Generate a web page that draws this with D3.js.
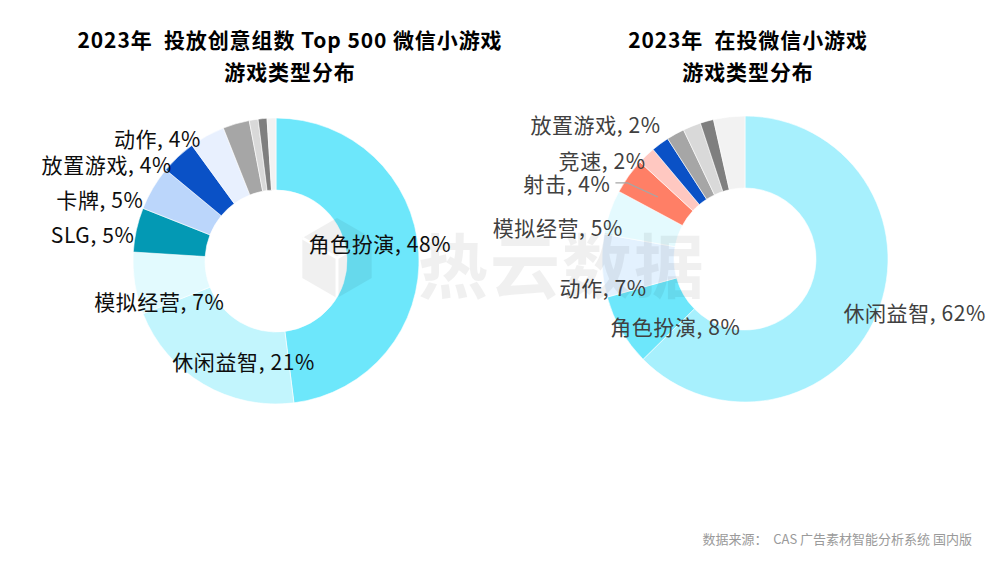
<!DOCTYPE html>
<html>
<head>
<meta charset="utf-8">
<script src="https://cdn.jsdelivr.net/npm/d3@7"></script>
<style>
  body { margin: 0; background: #fff; }
  text { font-family: "Noto Sans CJK SC", "Noto Sans", sans-serif; }
</style>
</head>
<body>
<script>
// left: Top 500 by creative groups
const leftCats = ['角色扮演', '休闲益智', '模拟经营', 'SLG', '卡牌', '放置游戏', '动作', '其他A', '其他B', '其他C', '其他D'];
const leftVals = [48, 21, 7, 5, 5, 4, 4, 3, 1, 1, 1];

// right: all active mini games
const rightCats = ['休闲益智', '角色扮演', '动作', '模拟经营', '射击', '竞速', '放置游戏', '其他A', '其他B', '其他C', '其他D'];
const rightVals = [62, 8, 7, 5, 4, 2, 2, 2, 2, 1.5, 3.5];

// only the first N slices carry a label
const leftLabelled = 7;
const rightLabelled = 7;

const leftColors = ['#6de7fb', '#c2f5fd', '#e2fafe', '#0399b4', '#bbd6fb', '#0a51c6', '#e8f0fe', '#a6a6a6', '#d9d9d9', '#7f7f7f', '#f2f2f2'];
const rightColors = ['#a7f0fd', '#6de7fb', '#e3f1fe', '#e4fafe', '#ff7f66', '#ffc8c1', '#0a51c6', '#a6a6a6', '#d9d9d9', '#7f7f7f', '#f2f2f2'];

// label nudges from arc centroid (layout only)
const leftNudge = [[-3, -11], [22, 8], [-11, 23], [-79, -4], [-84, -8], [-96, -19], [-67, -29]];
const rightNudge = [[71, 12], [23, 13], [-35, 23], [-86, 3], [-91, -14], [-69, -22], [-86, -49]];

const W = 992, H = 567;
const rIn = 71, rOut = 143;

const svg = d3.select('body')
  .append('svg')
  .attr('width', W)
  .attr('height', H);

const pie = d3.pie().sort(null).value(d => d.v);
const arc = d3.arc().innerRadius(rIn).outerRadius(rOut);

function drawDonut(cx, cy, cats, vals, colors) {
  const rows = cats.map((c, i) => ({ c, v: vals[i], col: colors[i] }));
  const g = svg.append('g').attr('transform', `translate(${cx},${cy})`);
  const arcs = pie(rows);
  g.selectAll('path')
    .data(arcs)
    .enter()
    .append('path')
    .attr('d', arc)
    .attr('fill', d => d.data.col)
    .attr('stroke', '#fff')
    .attr('stroke-width', 0.6);
  return { g, arcs };
}

function drawLabels(d, n, nudge, color, leaderIdx) {
  const lab = d.g.append('g');
  d.arcs.slice(0, n).forEach((a, i) => {
    const [x, y] = arc.centroid(a);
    const lx = x + nudge[i][0], ly = y + nudge[i][1];
    const t = lab.append('text')
      .attr('x', lx)
      .attr('y', ly)
      .attr('text-anchor', 'middle')
      .attr('dominant-baseline', 'central')
      .attr('font-size', 21)
      .attr('letter-spacing', 0.6)
      .attr('fill', color)
      .text(`${a.data.c}, ${a.data.v}%`);
    if (i === leaderIdx) {
      const bb = t.node().getBBox();
      const x0 = bb.x + bb.width + 5;
      d.g.insert('polyline', 'g')
        .attr('points', [[x0, ly], [x0 + 12, ly], [x, y]].map(p => p.join(',')).join(' '))
        .attr('fill', 'none')
        .attr('stroke', '#a6a6a6')
        .attr('stroke-width', 1.2);
    }
  });
}

const left = drawDonut(276, 261, leftCats, leftVals, leftColors);
const right = drawDonut(745, 259, rightCats, rightVals, rightColors);

// watermark
const wm = svg.append('g').attr('opacity', 0.055);
wm.append('text')
  .attr('x', 562)
  .attr('y', 262)
  .attr('text-anchor', 'middle')
  .attr('dominant-baseline', 'central')
  .attr('font-size', 70)
  .attr('font-weight', 'bold')
  .attr('letter-spacing', 2)
  .attr('fill', '#000')
  .text('热云数据');
const hex = d3.range(6).map(k => {
  const a = Math.PI / 6 + k * Math.PI / 3;
  return [337 + 40 * Math.cos(a), 258 + 40 * Math.sin(a)];
});
wm.append('polygon')
  .attr('points', hex.map(p => p.join(',')).join(' '))
  .attr('fill', '#000');
wm.append('polyline')
  .attr('points', [hex[3], [337, 258], hex[1]].map(p => p.join(',')).join(' ') + ` 337,258 ${hex[5].join(',')}`)
  .attr('fill', 'none')
  .attr('stroke', '#fff')
  .attr('stroke-width', 3);

drawLabels(left, leftLabelled, leftNudge, '#0d0d0d', -1);
drawLabels(right, rightLabelled, rightNudge, '#404040', 4);

// titles
const titles = [
  { x: 290, lines: ['2023年  投放创意组数 Top 500 微信小游戏', '游戏类型分布'] },
  { x: 748, lines: ['2023年  在投微信小游戏', '游戏类型分布'] }
];
titles.forEach(t => {
  t.lines.forEach((s, i) => {
    svg.append('text')
      .attr('x', t.x)
      .attr('y', 39 + i * 32)
      .attr('text-anchor', 'middle')
      .attr('dominant-baseline', 'central')
      .attr('font-size', 21)
      .attr('font-weight', 'bold')
      .attr('letter-spacing', 0.9)
      .attr('fill', '#000')
      .style('white-space', 'pre')
      .text(s);
  });
});

svg.append('text')
  .attr('x', 972)
  .attr('y', 538)
  .attr('text-anchor', 'end')
  .attr('dominant-baseline', 'central')
  .attr('font-size', 13)
  .attr('fill', '#9a9a9a')
  .style('white-space', 'pre')
  .text('数据来源：  CAS 广告素材智能分析系统 国内版');
</script>
</body>
</html>
